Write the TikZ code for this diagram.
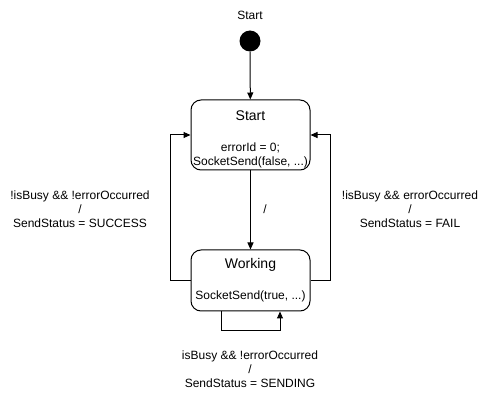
\documentclass[tikz,border=0pt]{standalone}
\usepackage{fontspec}
\setmainfont{Liberation Sans}
\usetikzlibrary{arrows.meta}

\tikzset{
	statebox/.style={rectangle, rounded corners=10pt, draw=black, line width=1pt, inner sep=0pt, minimum width=119pt},
	trans/.style={-{Triangle[length=7pt,width=6pt]}, line width=1pt},
	lbl/.style={inner sep=0pt, font=\fontsize{12}{14}\selectfont, align=center}
}

\begin{document}
\begin{tikzpicture}[x=1pt,y=-1pt]
	\useasboundingbox[fill=white] (0,0) rectangle (491,401);

	% initial state
	\node[lbl] at (250,15) (initlbl) {Start};
	\node[circle, fill=black, inner sep=0pt, minimum size=21pt] at (250,41) (init) {};

	% states
	\node[statebox, minimum height=70pt] at (250.5,135) (start) {};
	\node[lbl] at (250.5,116) (starttitle) {\fontsize{14}{16}\selectfont Start};
	\node[lbl] at (250.5,155) (startbody) {errorId = 0;\\SocketSend(false, ...)};

	\node[statebox, minimum height=61pt] at (250.5,280.5) (working) {};
	\node[lbl] at (250.5,265) (worktitle) {\fontsize{14}{16}\selectfont Working};
	\node[lbl] at (250.5,296) (workbody) {SocketSend(true, ...)};

	% transitions
	\draw[trans] (init) -- (start);
	\draw[trans] (start) -- (working);
	\node[lbl] at (265,209) (toworking) {/};

	\draw[trans] (working.west) -- ++(-20,0) |- (start.west);
	\node[lbl] at (80,209) (success) {!isBusy \&\& !errorOccurred\\/\\SendStatus = SUCCESS};

	\draw[trans] (working.east) -- ++(20,0) |- (start.east);
	\node[lbl] at (410,209) (fail) {!isBusy \&\& errorOccurred\\/\\SendStatus = FAIL};

	\draw[trans] ([xshift=-29.5pt]working.south) -- ++(0,19) -| ([xshift=29.5pt]working.south);
	\node[lbl] at (250,369) (sending) {isBusy \&\& !errorOccurred\\/\\SendStatus = SENDING};

\end{tikzpicture}
\end{document}
